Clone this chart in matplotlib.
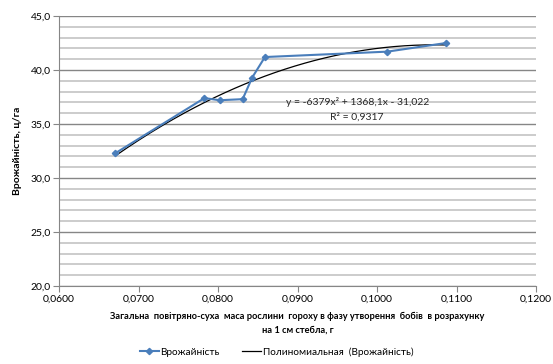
import numpy as np
import matplotlib
matplotlib.use("Agg")
import matplotlib.pyplot as plt
from matplotlib.ticker import MultipleLocator, FuncFormatter

plt.rcParams["font.family"] = ["Lato", "DejaVu Sans"]

# маса рослини, г / врожайність, ц/га
mass = [0.0671, 0.0783, 0.0802, 0.0831, 0.0843, 0.0859, 0.1013, 0.1087]
yield_ = [32.3, 37.4, 37.2, 37.3, 39.3, 41.2, 41.7, 42.5]

# коефіцієнти поліноміального тренду
poly_coef = [-6379, 1368.1, -31.022]
r_squared = 0.9317

LINE_BLUE = "#4a7ebb"
GRID_MAJOR = "#868686"
GRID_MINOR = "#c8c8c8"


def comma(v, decimals):
    return f"{v:.{decimals}f}".replace(".", ",")


def main():
    fig = plt.figure(figsize=(5.53, 3.64), dpi=100)
    ax = fig.add_axes([59 / 553, 1 - 286 / 364, (536 - 59) / 553, (286 - 16) / 364])

    ax.set_xlim(0.06, 0.12)
    ax.set_ylim(20, 45)

    ax.yaxis.set_major_locator(MultipleLocator(5))
    ax.yaxis.set_minor_locator(MultipleLocator(1))
    ax.xaxis.set_major_locator(MultipleLocator(0.01))
    ax.xaxis.set_major_formatter(FuncFormatter(lambda v, _: comma(v, 4)))
    ax.yaxis.set_major_formatter(FuncFormatter(lambda v, _: comma(v, 1)))

    ax.grid(which="minor", axis="y", color=GRID_MINOR, lw=1.3)
    ax.grid(which="major", axis="y", color=GRID_MAJOR, lw=1.0)
    ax.set_axisbelow(True)

    for side in ("top", "right"):
        ax.spines[side].set_visible(False)
    for side in ("left", "bottom"):
        ax.spines[side].set_color(GRID_MAJOR)
    ax.tick_params(which="major", length=4, color=GRID_MAJOR, labelsize=7.5, pad=2)
    ax.tick_params(which="minor", length=0)

    # тренд
    xs = np.linspace(min(mass), max(mass), 200)
    ax.plot(xs, np.polyval(poly_coef, xs), color="black", lw=0.9,
            label="Полиномиальная  (Врожайність)", zorder=3)
    ax.plot(mass, yield_, color=LINE_BLUE, lw=1.5, marker="D", ms=3.2,
            label="Врожайність", zorder=4)

    eq = (f"y = {comma(poly_coef[0], 0)}x² + {comma(poly_coef[1], 1)}x - "
          f"{comma(-poly_coef[2], 3)}")
    ax.text(0.0975, 37.0, eq, fontsize=7.5, ha="center", va="center", color="#262626")
    ax.text(0.0975, 35.6, f"R² = {comma(r_squared, 4)}", fontsize=7.5,
            ha="center", va="center", color="#262626")

    ax.set_ylabel("Врожайність, ц/га", fontsize=7.5, fontweight="bold", labelpad=6)
    ax.set_xlabel("Загальна  повітряно-суха  маса рослини  гороху в фазу утворення  бобів  в розрахунку\n"
                  "на 1 см стебла, г", fontsize=6.7, fontweight="bold", labelpad=6,
                  linespacing=1.7)

    handles, labels = ax.get_legend_handles_labels()
    fig.legend(handles[::-1], labels[::-1], loc="center", bbox_to_anchor=(0.5, 1 - 352 / 364),
               ncol=2, frameon=False, fontsize=7.2, handlelength=1.9, columnspacing=2.2,
               handletextpad=0.2)

    plt.savefig("out.png", dpi=100)
    plt.close(fig)


if __name__ == "__main__":
    main()
